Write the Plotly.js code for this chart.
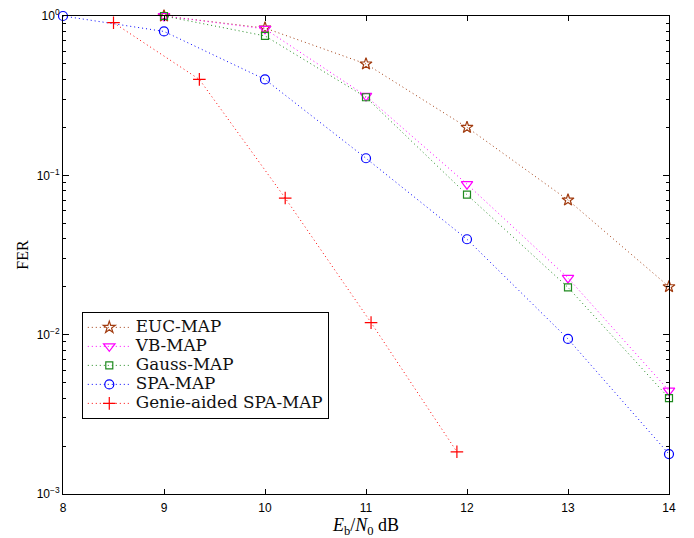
<!DOCTYPE html>
<html>
<head>
<meta charset="utf-8">
<script src="https://cdn.plot.ly/plotly-3.0.1.min.js"></script>
<style>html,body{margin:0;padding:0;background:#fff;}#chart{width:694px;height:538px;}</style>
</head>
<body>
<div id="chart"></div>
<script>
// Data
const snrMain = [9, 10, 11, 12, 13, 14];
const eucMap = [1.0, 0.84, 0.50, 0.20, 0.070, 0.020];
const vbMap = [1.0, 0.83, 0.315, 0.088, 0.0227, 0.00445];
const gaussMap = [1.0, 0.75, 0.309, 0.0756, 0.0198, 0.0040];
const snrSpa = [8, 9, 10, 11, 12, 13, 14];
const spaMap = [1.0, 0.80, 0.40, 0.128, 0.0397, 0.0094, 0.00178];
const snrGenie = [8.5, 9.35, 10.2, 11.05, 11.9];
const genieMap = [0.908, 0.40, 0.072, 0.0119, 0.00184];

const seriesNames = ['EUC-MAP', 'VB-MAP', 'Gauss-MAP', 'SPA-MAP', 'Genie-aided SPA-MAP'];
const yTickVals = [0.001, 0.01, 0.1, 1];
const yTickText = ['10<sup>\u22123</sup>', '10<sup>\u22122</sup>', '10<sup>\u22121</sup>', '10<sup>0</sup>'];
const xTickVals = [8, 9, 10, 11, 12, 13, 14];

const minorVals = [];
[0.001, 0.01, 0.1].forEach(d => { for (let k = 2; k <= 9; k++) minorVals.push(d * k); });

function tr(x, y, name, color, symbol, size) {
  return {
    x: x, y: y, type: 'scatter', mode: 'lines+markers',
    name: '<span style="font-size:16.8px">' + name + '</span>',
    line: {color: color, width: 1, dash: '1px,3px'},
    marker: {symbol: symbol, size: size, color: color, line: {color: color, width: 1.2}},
    cliponaxis: false
  };
}

const data = [
  tr(snrMain, eucMap, seriesNames[0], '#a23c10', 'star-open', 9),
  tr(snrMain, vbMap, seriesNames[1], '#ff00ff', 'triangle-down-open', 10),
  tr(snrMain, gaussMap, seriesNames[2], '#1f8a1f', 'square-open', 7),
  tr(snrSpa, spaMap, seriesNames[3], '#0000ff', 'circle-open', 9),
  tr(snrGenie, genieMap, seriesNames[4], '#ff0000', 'cross-thin-open', 9)
];

const layout = {
  width: 694, height: 538,
  margin: {l: 63, r: 25, t: 16, b: 44},
  paper_bgcolor: '#fff', plot_bgcolor: '#fff',
  showlegend: true,
  legend: {
    x: 0.031, y: 0.381, xanchor: 'left', yanchor: 'top',
    bordercolor: '#000', borderwidth: 1, bgcolor: '#fff',
    font: {family: 'DejaVu Serif, serif', size: 12.2, color: '#111'},
    tracegroupgap: 0, itemwidth: 43
  },
  xaxis: {
    range: [8, 14], tickvals: xTickVals, ticktext: xTickVals.map(String),
    showgrid: false, zeroline: false, showline: true, linecolor: '#000', linewidth: 1,
    mirror: 'ticks', ticks: 'inside', ticklen: 5, tickcolor: '#000',
    ticklabelstandoff: 3,
    tickfont: {family: 'Liberation Sans, Arial, sans-serif', size: 12, color: '#000'},
    title: {text: '<i>E</i><sub>b</sub>/<i>N</i><sub>0</sub> dB', font: {family: 'Liberation Serif, serif', size: 18, color: '#000'}, standoff: 5}
  },
  yaxis: {
    type: 'log', range: [-3, 0], tickvals: yTickVals, ticktext: yTickText,
    showgrid: false, zeroline: false, showline: true, linecolor: '#000', linewidth: 1,
    mirror: 'ticks', ticks: 'inside', ticklen: 6, tickcolor: '#000',
    tickfont: {family: 'Liberation Sans, Arial, sans-serif', size: 12, color: '#000'},
    minor: {tickvals: minorVals, ticks: 'inside', ticklen: 3, tickcolor: '#000', showgrid: false},
    title: {text: 'FER', font: {family: 'Liberation Serif, serif', size: 16, color: '#000'}, standoff: 4}
  }
};

Plotly.newPlot('chart', data, layout, {displayModeBar: false, staticPlot: true});
</script>
</body>
</html>
